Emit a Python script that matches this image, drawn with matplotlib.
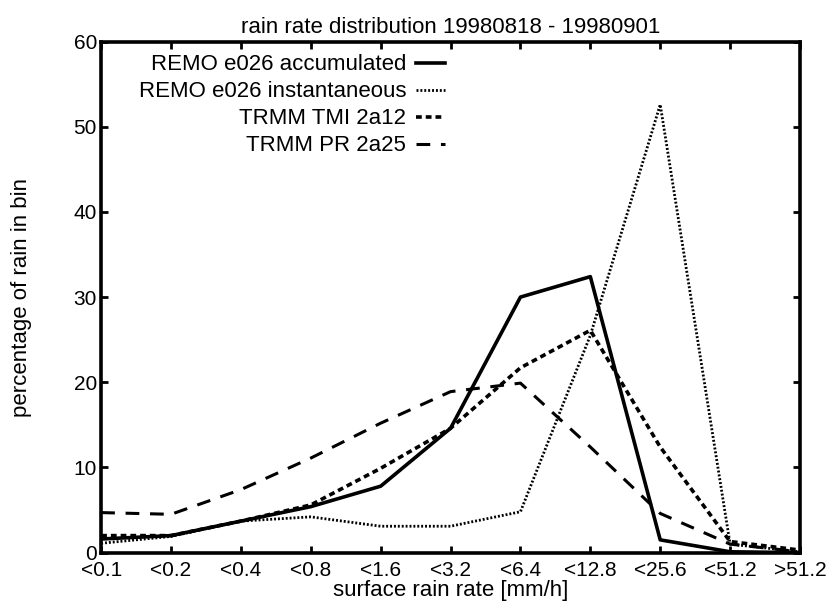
import matplotlib.pyplot as plt

plt.rcParams['font.family'] = ['Liberation Sans', 'DejaVu Sans']

# rain rate bins
bins = ['<0.1', '<0.2', '<0.4', '<0.8', '<1.6', '<3.2', '<6.4', '<12.8', '<25.6', '<51.2', '>51.2']

# percentage of rain in each bin
remo_acc = [1.6, 2.0, 3.7, 5.4, 7.8, 14.6, 30.0, 32.4, 1.5, 0.1, 0.0]
remo_inst = [1.1, 1.9, 3.7, 4.2, 3.1, 3.1, 4.8, 25.5, 52.6, 1.0, 0.1]
tmi_2a12 = [2.0, 2.0, 3.7, 5.6, 9.9, 14.6, 21.7, 26.1, 12.4, 1.3, 0.3]
pr_2a25 = [4.7, 4.5, 7.4, 11.1, 15.2, 18.9, 19.9, 12.4, 4.6, 1.0, 0.1]

x = list(range(len(bins)))

fig = plt.figure(figsize=(8.29, 6.02), dpi=100)
ax = fig.add_axes([0.122, 0.082, 0.843, 0.849])

ax.plot(x, remo_acc, color='black', lw=2.6, ls='-', label='REMO e026 accumulated')
ax.plot(x, remo_inst, color='black', lw=2.0, ls=(0, (0.7, 0.7)), label='REMO e026 instantaneous')
ax.plot(x, tmi_2a12, color='black', lw=2.6, ls=(0, (1.6, 1.1)), label='TRMM TMI 2a12')
ax.plot(x, pr_2a25, color='black', lw=2.2, ls=(0, (4.5, 3.5)), label='TRMM PR 2a25')

ax.set_xlim(0, len(bins) - 1)
ax.set_ylim(0, 60)
ax.set_xticks(x)
ax.set_xticklabels(bins)
ax.set_yticks(range(0, 61, 10))

for s in ax.spines.values():
    s.set_linewidth(2.6)
ax.tick_params(direction='in', length=5, width=2, top=True, right=True, labelsize=15)
ax.tick_params(axis='x', pad=6)
ax.tick_params(axis='y', pad=3)

ax.set_title('rain rate distribution 19980818 - 19980901', fontsize=16, pad=6)
ax.set_xlabel('surface rain rate [mm/h]', fontsize=16, labelpad=0)
ax.set_ylabel('percentage of rain in bin', fontsize=16, labelpad=30)

ax.legend(loc='upper right', bbox_to_anchor=(0.492, 0.975), frameon=False,
          markerfirst=False, fontsize=16, handlelength=1.3, handletextpad=0.45,
          labelspacing=0.27, borderaxespad=0, borderpad=0)

fig.savefig('out.png', dpi=100)
